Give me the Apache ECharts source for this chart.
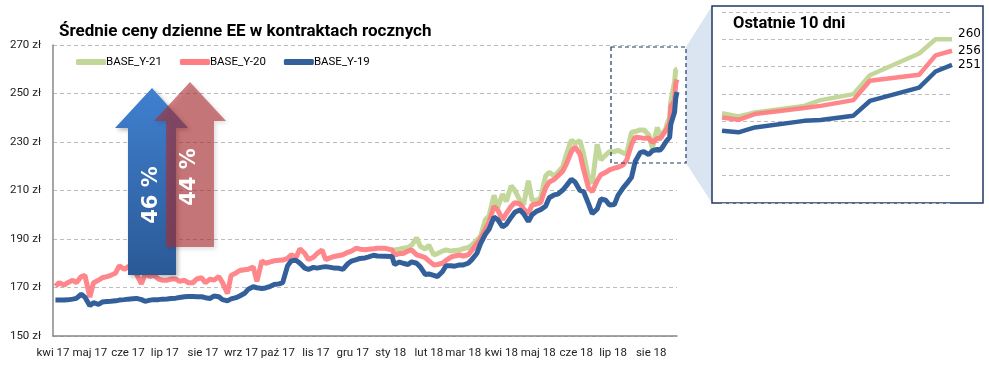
<!DOCTYPE html>
<html>
<head>
<meta charset="utf-8">
<script src="https://cdn.jsdelivr.net/npm/echarts@6/dist/echarts.min.js"></script>
<style>html,body{margin:0;padding:0;background:#fff}#c{width:989px;height:372px}</style>
</head>
<body>
<div id="c"></div>
<script>
// ---------- DATA ----------
const title = 'Średnie ceny dzienne EE w kontraktach rocznych';
const insetTitle = 'Ostatnie 10 dni';
const seriesNames = ['BASE_Y-21', 'BASE_Y-20', 'BASE_Y-19'];
const monthNames = ['sty','lut','mar','kwi','maj','cze','lip','sie','wrz','paź','lis','gru'];
const monthTicks = ['2017-04-01','2017-05-01','2017-06-01','2017-07-01','2017-08-01','2017-09-01','2017-10-01','2017-11-01','2017-12-01',
  '2018-01-01','2018-02-01','2018-03-01','2018-04-01','2018-05-01','2018-06-01','2018-07-01','2018-08-01'];
const yTicks = [150, 170, 190, 210, 230, 250, 270];

const dates = [
'2017-04-03','2017-04-06','2017-04-10','2017-04-13','2017-04-17','2017-04-20','2017-04-24','2017-04-27',
'2017-05-01','2017-05-04','2017-05-08','2017-05-11','2017-05-15','2017-05-18','2017-05-22','2017-05-25','2017-05-29','2017-06-01',
'2017-06-05','2017-06-08','2017-06-12','2017-06-15','2017-06-19','2017-06-22','2017-06-26','2017-06-29',
'2017-07-03','2017-07-06','2017-07-10','2017-07-13','2017-07-17','2017-07-20','2017-07-24','2017-07-27','2017-07-31','2017-08-03',
'2017-08-07','2017-08-10','2017-08-14','2017-08-17','2017-08-21','2017-08-24','2017-08-28','2017-08-31',
'2017-09-04','2017-09-07','2017-09-11','2017-09-14','2017-09-18','2017-09-21','2017-09-25','2017-09-28',
'2017-10-02','2017-10-05','2017-10-09','2017-10-12','2017-10-16','2017-10-19','2017-10-23','2017-10-26','2017-10-30','2017-11-02',
'2017-11-06','2017-11-09','2017-11-13','2017-11-16','2017-11-20','2017-11-23','2017-11-27','2017-11-30',
'2017-12-04','2017-12-07','2017-12-11','2017-12-14','2017-12-18','2017-12-21','2017-12-27','2017-12-28',
'2018-01-02','2018-01-04','2018-01-08','2018-01-11','2018-01-15','2018-01-18','2018-01-22','2018-01-25','2018-01-29','2018-02-01',
'2018-02-05','2018-02-08','2018-02-12','2018-02-15','2018-02-19','2018-02-22','2018-02-26','2018-03-01',
'2018-03-05','2018-03-08','2018-03-12','2018-03-15','2018-03-19','2018-03-22','2018-03-26','2018-03-29',
'2018-04-02','2018-04-05','2018-04-09','2018-04-12','2018-04-16','2018-04-19','2018-04-23','2018-04-26','2018-04-30','2018-05-03',
'2018-05-07','2018-05-10','2018-05-14','2018-05-17','2018-05-21','2018-05-24','2018-05-28','2018-05-31',
'2018-06-04','2018-06-07','2018-06-11','2018-06-14','2018-06-18','2018-06-21','2018-06-25','2018-06-28',
'2018-07-02','2018-07-05','2018-07-09','2018-07-12','2018-07-16','2018-07-19','2018-07-23','2018-07-26','2018-07-30','2018-08-02',
'2018-08-06',
'2018-08-08','2018-08-09','2018-08-10','2018-08-13','2018-08-14','2018-08-16','2018-08-17','2018-08-20','2018-08-21','2018-08-22'
];

const baseY19 = [
164.8,164.8, 164.8,164.9, 165.2,165.5, 167.2,166.0, 162.5,163.8, 163.0,164.0, 164.2,164.3, 164.5,164.8,
165.0,165.2, 165.4,165.5, 165.0,164.3, 164.8,165.0, 165.0,165.2, 165.3,165.5, 165.6,165.9, 166.2,166.3,
166.3,166.2, 166.2,165.8, 165.5,166.5, 166.2,165.0, 164.5,165.3, 165.8,166.5, 167.6,169.3, 170.3,169.9,
169.6,169.8, 170.5,171.2, 171.5,172.0, 179.0,181.0, 181.2,180.0, 178.0,177.5, 178.3,178.0, 178.4,178.6,
178.3,178.0, 177.9,177.5, 179.8,180.9, 181.5,182.0, 182.2,182.6, 183.3,183.0, 182.9,183.3, 182.8,179.5,
180.5,180.0, 179.5,180.6, 180.0,178.5, 175.4,175.6, 175.0,174.5, 176.5,179.0, 179.0,178.8, 179.3,179.3,
180.0,181.5, 184.0,188.0, 192.0,194.0, 199.0,198.0, 195.0,196.0, 199.0,201.0, 202.0,200.5, 197.2,200.0,
201.5,202.1, 203.5,207.0, 208.2,208.5, 210.2,212.0, 214.6,213.5, 210.0,209.5, 204.5,200.5, 202.3,206.5,
206.0,204.0, 204.2,208.0, 211.0,212.8, 215.5,222.0, 225.6,226.0, 224.8,226.4,
227.0,
226.5,225.9,227.7,230.1,230.4,232.0,237.4,242.3,248.2,250.6
];

const baseY20 = [
170.5,172.0, 171.0,172.0, 173.0,172.0, 174.5,175.0, 166.0,172.0, 173.0,174.0, 174.5,175.0, 176.0,179.0,
177.5,178.5, 180.0,175.5, 171.5,175.5, 174.5,175.0, 173.5,173.0, 173.0,173.5, 173.5,172.5, 173.0,172.0,
172.0,173.5, 174.0,172.0, 173.5,173.0, 174.5,172.0, 167.5,175.0, 176.0,177.0, 177.3,177.5, 178.5,172.5,
181.0,180.0, 180.6,181.0, 181.2,181.3, 182.0,183.5, 182.5,186.0, 184.0,181.5, 182.5,184.0, 185.5,181.5,
182.3,182.8, 183.2,183.5, 184.5,185.0, 186.2,185.8, 185.6,185.8, 186.0,186.2, 186.2,186.2, 185.5,183.4,
184.0,184.0, 185.0,185.5, 183.5,183.0, 182.3,181.0, 179.3,179.5, 180.0,181.2, 182.5,183.0, 183.4,183.0,
183.5,185.3, 188.0,190.0, 194.0,197.0, 203.4,202.0, 198.0,200.5, 203.5,205.0, 204.5,202.5, 200.5,204.0,
204.5,205.0, 211.0,213.5, 214.5,216.0, 218.0,221.0, 226.0,228.0, 225.0,218.5, 211.0,209.5, 214.0,216.5,
217.5,218.5, 219.2,219.6, 220.5,222.5, 229.0,232.0, 231.8,231.5, 231.6,229.8,
231.5,
231.3,230.5,232.6,234.8,235.6,237.7,244.8,247.0,254.1,255.8
];

const baseY21Start = '2018-01-02';
const baseY21 = [
185.5,185.5, 185.8,186.2, 186.5,187.5, 190.5,187.0, 185.8,187.5, 183.5,184.0, 185.0,185.5, 185.0,185.3,
185.5,186.0, 186.5,187.5, 189.5,191.0, 198.0,199.5, 208.0,203.0, 208.5,205.5, 212.0,210.0, 206.0,204.0,
214.0,206.0, 206.0,207.0, 216.0,217.5, 216.0,217.5, 219.8,225.0, 230.8,229.5, 230.5,225.0, 215.0,213.0,
229.0,222.6, 224.6,226.0, 226.0,226.6, 225.5,225.0, 234.0,234.3, 235.0,235.0, 233.0,227.5,
236.0,
232.9,231.7,233.2,235.6,237.7,239.9,246.8,254.8,260.0,260.0
];

const insetCount = 10;
const arrowTexts = ['46 %', '44 %'];

// ---------- BUILD ----------
const FONT = "Roboto, 'Liberation Sans', sans-serif";
const colors = ['#c4d79b', '#ff7c80', '#33609a'];
function ts(s){ const p = s.split('-').map(Number); return Date.UTC(p[0], p[1]-1, p[2]); }

const startIdx = dates.indexOf(baseY21Start);
const y21Full = dates.map((d, i) => i >= startIdx ? baseY21[i - startIdx] : null);
const allVals = [y21Full, baseY20, baseY19];

const mainSeries = allVals.map((vals, si) => ({
  name: seriesNames[si], type: 'line', xAxisIndex: 0, yAxisIndex: 0,
  data: dates.map((d, i) => [ts(d), vals[i]]),
  showSymbol: false, symbol: 'none', connectNulls: false,
  lineStyle: { width: 5, color: colors[si], opacity: si === 1 ? 0.92 : 1 },
  itemStyle: { color: colors[si] }, z: 2 + si
}));

const n = dates.length;
const insetDates = dates.slice(n - insetCount);
const insetSeries = allVals.map((vals, si) => ({
  name: seriesNames[si], type: 'line', xAxisIndex: 1, yAxisIndex: 1,
  data: insetDates.map((d, j) => [ts(d), vals[n - insetCount + j]]),
  showSymbol: false, symbol: 'none',
  lineStyle: { width: 4.5, color: colors[si], opacity: si === 1 ? 0.92 : 1 },
  itemStyle: { color: colors[si] }, z: 2 + si,
  endLabel: { show: true, formatter: p => String(Math.round(p.value[1])), color: '#000',
    fontFamily: 'DejaVu Sans', fontSize: 12, distance: 6, offset: si === 0 ? [0, -5] : [0, 0] }
}));

const chart = echarts.init(document.getElementById('c'), null, { renderer: 'canvas' });
chart.setOption({
  animation: false,
  backgroundColor: '#fff',
  title: { text: title, left: 59, top: 23, padding: 0,
    textStyle: { fontFamily: FONT, fontWeight: 'bold', fontSize: 17, color: '#000' } },
  legend: { data: seriesNames, left: 76, top: 56, padding: 0, itemWidth: 30, itemHeight: 6, itemGap: 18,
    icon: 'roundRect', textStyle: { fontFamily: FONT, fontSize: 11.5, color: '#000', padding: [0,0,0,-5] } },
  grid: [
    { left: 53, right: 312, top: 45, bottom: 36 },
    { left: 722, right: 37, top: 12, bottom: 169 }
  ],
  xAxis: [
    { type: 'value', gridIndex: 0, min: ts('2017-04-01'), max: ts('2018-08-22'),
      axisLine: { lineStyle: { color: '#888', width: 1.5 } }, axisTick: { show: false }, splitLine: { show: false },
      axisLabel: { customValues: monthTicks.map(ts), margin: 11, color: '#222', fontFamily: FONT, fontSize: 11.5,
        hideOverlap: false, showMinLabel: true, showMaxLabel: true,
        formatter: v => { const d = new Date(v); return monthNames[d.getUTCMonth()] + ' ' + String(d.getUTCFullYear()).slice(2); } } },
    { type: 'value', gridIndex: 1, min: ts(insetDates[0]), max: ts(insetDates[insetDates.length-1]), show: false, splitLine: { show: false } }
  ],
  yAxis: [
    { type: 'value', gridIndex: 0, min: yTicks[0], max: yTicks[yTicks.length-1], interval: yTicks[1]-yTicks[0],
      axisLine: { show: true, lineStyle: { color: '#888', width: 1.5 } }, axisTick: { show: false },
      splitLine: { lineStyle: { color: '#bdbdbd', type: [4, 3], width: 1 } },
      axisLabel: { formatter: '{value} zł', margin: 12, color: '#222', fontFamily: FONT, fontSize: 11.5 } },
    { type: 'value', gridIndex: 1, min: 200, max: 270, interval: 10,
      axisLine: { show: false }, axisTick: { show: false }, axisLabel: { show: false },
      splitLine: { lineStyle: { color: '#bdbdbd', type: [4, 3], width: 1 } } }
  ],
  series: mainSeries.concat(insetSeries),
  graphic: [
    { type: 'polygon', z: -2, shape: { points: [[686,47],[712,6],[712,203],[686,163]] }, style: { fill: '#dbe5f1' }, silent: true },
    { type: 'rect', z: -1, shape: { x: 712, y: 6, width: 271, height: 197 }, style: { fill: '#fff', stroke: '#1f3864', lineWidth: 1.5 }, silent: true },
    { type: 'text', z: 50, x: 733, y: 24, style: { text: insetTitle, fontFamily: FONT, fontWeight: 'bold', fontSize: 16.5, fill: '#000', verticalAlign: 'middle' } },
    { type: 'rect', z: 50, shape: { x: 611, y: 47, width: 75, height: 116 }, style: { fill: null, stroke: '#1f3864', lineWidth: 1.2, lineDash: [4, 3] }, silent: true },
    { type: 'polygon', z: 40, shape: { points: [[128,275],[128,128],[115,128],[152,88],[188,128],[176,128],[176,275]] },
      style: { fill: new echarts.graphic.LinearGradient(0, 0, 0, 1, [{ offset: 0, color: '#4080d0' }, { offset: 1, color: '#2b5996' }]),
        shadowBlur: 4, shadowOffsetX: 2, shadowOffsetY: 2, shadowColor: 'rgba(0,0,0,0.3)' } },
    { type: 'polygon', z: 41, shape: { points: [[166,247],[166,121],[154,121],[190,82],[226,121],[214,121],[214,247]] },
      style: { fill: 'rgba(175,45,48,0.6)', shadowBlur: 4, shadowOffsetX: 2, shadowOffsetY: 2, shadowColor: 'rgba(0,0,0,0.2)' } },
    { type: 'text', z: 45, x: 152, y: 195, rotation: Math.PI/2, style: { text: arrowTexts[0], fontFamily: 'DejaVu Sans', fontWeight: 'bold', fontSize: 21, fill: '#fff', align: 'center', verticalAlign: 'middle' } },
    { type: 'text', z: 45, x: 190, y: 177, rotation: Math.PI/2, style: { text: arrowTexts[1], fontFamily: 'DejaVu Sans', fontWeight: 'bold', fontSize: 21, fill: '#fff', align: 'center', verticalAlign: 'middle' } }
  ]
});
</script>
</body>
</html>
